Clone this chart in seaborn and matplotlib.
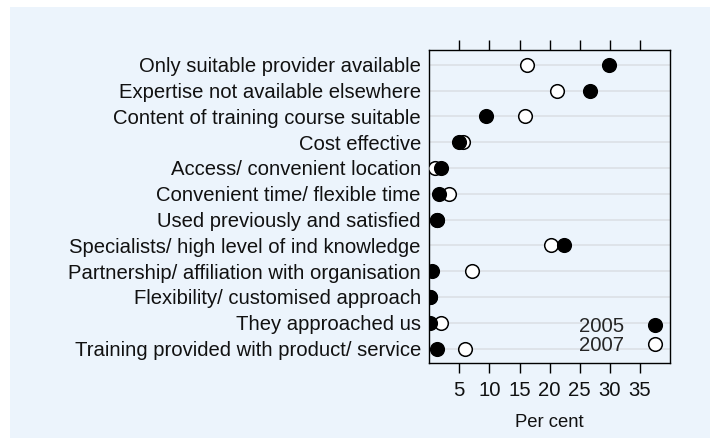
import matplotlib
matplotlib.use("Agg")
import matplotlib.pyplot as plt
from matplotlib.patches import Rectangle
from matplotlib.lines import Line2D
import seaborn as sns
import pandas as pd

reasons = [
    "Only suitable provider available",
    "Expertise not available elsewhere",
    "Content of training course suitable",
    "Cost effective",
    "Access/ convenient location",
    "Convenient time/ flexible time",
    "Used previously and satisfied",
    "Specialists/ high level of ind knowledge",
    "Partnership/ affiliation with organisation",
    "Flexibility/ customised approach",
    "They approached us",
    "Training provided with product/ service",
]
pct_2005 = [29.8, 26.7, 9.4, 4.9, 1.9, 1.7, 1.3, 22.4, 0.5, 0.2, 0.2, 1.3]
pct_2007 = [16.2, 21.3, 15.9, 5.6, 1.0, 3.3, 1.3, 20.3, 7.1, 0.2, 1.9, 6.0]
xticks = [5, 10, 15, 20, 25, 30, 35]

bg = "#ECF4FC"
fs = 14.6
msize = 9.8
sns.set_theme(style="white")
plt.rcParams["font.family"] = ["Liberation Sans", "DejaVu Sans"]
plt.rcParams["font.size"] = fs

df07 = pd.DataFrame({"reason": reasons, "pct": pct_2007})
df05 = pd.DataFrame({"reason": reasons, "pct": pct_2005})

fig = plt.figure(figsize=(7.10, 4.38), dpi=100)
fig.patch.set_facecolor("white")
fig.patches.append(Rectangle((10 / 710, 0), 700 / 710, 431 / 438,
                             transform=fig.transFigure, facecolor=bg,
                             edgecolor="none", zorder=-10))
ax = fig.add_axes([429.2 / 710, 1 - 363.3 / 438, (670 - 429.2) / 710, (363.3 - 50) / 438])
ax.set_facecolor(bg)

for i in range(len(reasons)):
    ax.axhline(i, color="#dde2e8", lw=1.3, zorder=0)

sns.stripplot(data=df07, x="pct", y="reason", order=reasons, jitter=False,
              color="white", edgecolor="black", linewidth=1.1, size=msize,
              ax=ax, zorder=3)
sns.stripplot(data=df05, x="pct", y="reason", order=reasons, jitter=False,
              color="black", edgecolor="black", linewidth=1.1, size=msize,
              ax=ax, zorder=4)

ax.set_xlim(0, 40)
ax.set_ylim(len(reasons) - 0.43, -0.57)
ax.set_xticks(xticks)
ax.set_xticklabels([str(t) for t in xticks])
ax.tick_params(axis="x", which="both", top=True, bottom=True, direction="out",
               length=7, width=1, color="black", labelsize=fs, pad=6, labelcolor="#111111")
ax.tick_params(axis="y", length=0, pad=6, labelsize=fs, labelcolor="#111111")
ax.set_xlabel("Per cent", fontsize=13.3, labelpad=10, color="#111111")
ax.set_ylabel("")
for s in ax.spines.values():
    s.set_visible(True)
    s.set_color("black")
    s.set_linewidth(1)

handles = [
    Line2D([], [], marker="o", linestyle="none", markersize=msize,
           markerfacecolor="black", markeredgecolor="black", markeredgewidth=1.1),
    Line2D([], [], marker="o", linestyle="none", markersize=msize,
           markerfacecolor="white", markeredgecolor="black", markeredgewidth=1.1),
]
ax.legend(handles, ["2005", "2007"], loc="lower right", markerfirst=False,
          frameon=False, fontsize=fs, labelspacing=0.0, handletextpad=1.0,
          handlelength=1.0, borderpad=0.0, borderaxespad=0.0,
          bbox_to_anchor=(0.978, 0.025))

fig.savefig("out.png", dpi=100, facecolor="white")
